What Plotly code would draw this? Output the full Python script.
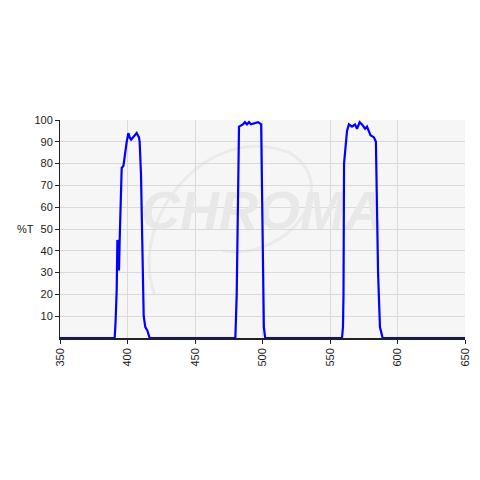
import plotly.graph_objects as go

wavelength_nm = [350, 390.5, 391.2, 392.0, 392.5, 393.0, 393.7, 394.2, 395.0, 395.7, 397.0, 398.6, 399.4,
                 400.6, 401.6, 402.7, 404.3, 406.8, 408.5, 409.0, 410.0, 410.7, 411.2, 412.0, 413.2,
                 414.7, 416.4,
                 479.9, 480.9, 482.6, 485.5, 487.0, 488.5, 490.0, 491.5, 496.7, 499.0, 499.6, 501.0, 502.0,
                 558.9, 559.6, 560.0, 560.4, 562.6, 564.0, 566.3, 568.5, 570.0, 572.0, 573.7, 576.0,
                 577.4, 580.0, 582.6, 584.0, 585.6, 587.0, 589.0, 650]
transmission_pct = [0, 0, 8, 22, 45, 38, 31, 45, 64, 78, 79, 88, 90,
                    94, 92, 91, 92, 94, 92, 90, 75, 50, 25, 10, 5,
                    3.5, 0,
                    0, 20, 97, 98, 99, 98, 99, 98, 99, 98, 60, 5, 0,
                    0, 5, 20, 80, 95, 98, 97, 98, 96, 99, 98, 96,
                    97, 93, 92, 90, 30, 5, 0, 0]

x_ticks = [350, 400, 450, 500, 550, 600, 650]
y_ticks = [10, 20, 30, 40, 50, 60, 70, 80, 90, 100]
watermark_text = "CHROMA"

fig = go.Figure()
# watermark (drawn first so it sits beneath the curve)
fig.add_trace(go.Scatter(x=[500], y=[56], mode="text", text=[watermark_text],
                         textfont=dict(family="Liberation Sans", size=54, color="#e8e8e8",
                                       weight="bold", style="italic"),
                         hoverinfo="skip", showlegend=False))
fig.add_trace(go.Scatter(x=wavelength_nm, y=transmission_pct, mode="lines",
                         line=dict(color="#0000ff", width=2.2), hoverinfo="skip",
                         showlegend=False))

fig.add_shape(type="path", xref="x", yref="y", layer="below",
              path="M 420,20 C 400,55 460,100 520,85 C 560,70 520,35 470,40",
              line=dict(color="#ebebeb", width=3))

fig.update_layout(
    width=480, height=480,
    margin=dict(l=52, r=23, t=112, b=150),
    paper_bgcolor="white", plot_bgcolor="#f6f6f6",
    font=dict(family="Liberation Sans, Arial", size=11, color="#222"),
    xaxis=dict(range=[350, 650], tickvals=x_ticks, tickangle=-90, showgrid=True,
               gridcolor="#dadada", gridwidth=1, zeroline=False, showline=True,
               linecolor="#222", linewidth=1.5, ticks="outside", ticklen=4, tickcolor="#222",
               fixedrange=True),
    yaxis=dict(range=[0, 100], tickvals=y_ticks, showgrid=True, gridcolor="#dadada",
               gridwidth=1, zeroline=False, showline=True, linecolor="#222", linewidth=1,
               ticks="outside", ticklen=4, tickcolor="#222", fixedrange=True),
)
fig.add_annotation(x=-35 / 405, y=50, xref="paper", yref="y", xanchor="center",
                   text="%T", showarrow=False, font=dict(size=11, color="#222"))

fig.write_html("out.html")
